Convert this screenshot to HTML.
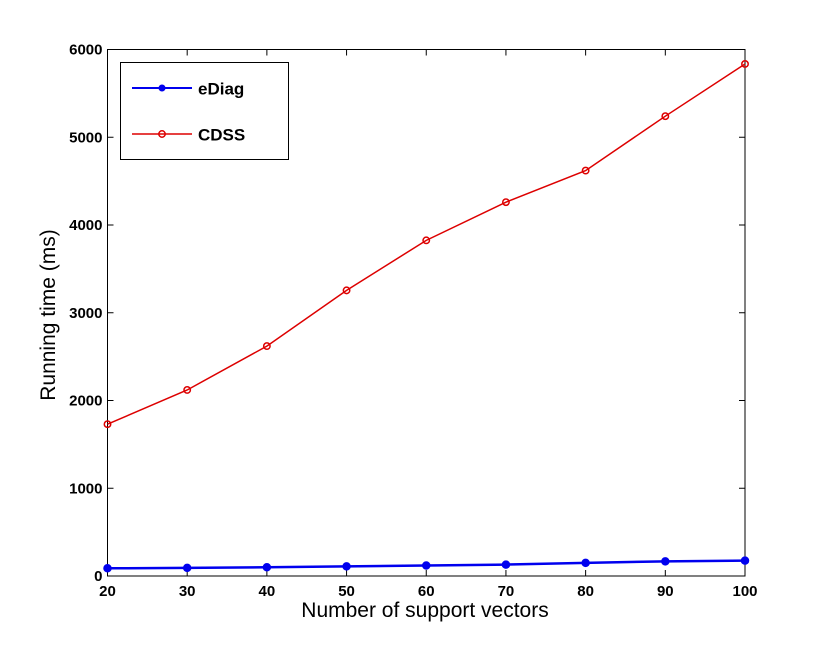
<!DOCTYPE html>
<html><head><meta charset="utf-8"><style>
html,body{margin:0;padding:0;background:#fff;}
svg{display:block;font-family:"Liberation Sans",Arial,sans-serif;}
</style></head><body>
<svg id="chart" width="823" height="647">
<rect width="823" height="647" fill="#fff"/>
<g id="axes"></g><g id="series"></g>
<g>
<rect x="120.5" y="62.5" width="168" height="97" fill="#fff" stroke="#000" stroke-width="1"/>
<g>
<line x1="132" y1="88" x2="192" y2="88" stroke="#0000ee" stroke-width="2"/>
<circle cx="162" cy="88" r="3.5" fill="#0000ee"/>
<text x="198" y="94.5" font-size="17" font-weight="bold">eDiag</text></g>
<g>
<line x1="132" y1="134" x2="192" y2="134" stroke="#dd0000" stroke-width="1.5"/>
<circle cx="162" cy="134" r="3.2" fill="none" stroke="#dd0000" stroke-width="1.5"/>
<text x="198" y="140.5" font-size="17" font-weight="bold">CDSS</text></g>
</g>
<text x="425" y="617" text-anchor="middle" font-size="21">Number of support vectors</text>
<text transform="translate(55,315) rotate(-90)" text-anchor="middle" font-size="21">Running time (ms)</text>
</svg>
<script>
const categories=[20,30,40,50,60,70,80,90,100];
const ediagValues=[88,92,100,110,120,130,150,167,175];
const cdssValues=[1730,2120,2620,3255,3825,4260,4620,5240,5835];
const xTicks=[20,30,40,50,60,70,80,90,100];
const yTicks=[0,1000,2000,3000,4000,5000,6000];
const L=107.5,R=745,T=49.5,B=576;
const xs=v=>L+(v-20)/80*(R-L);
const ys=v=>B-v/6000*(B-T);
const NS="http://www.w3.org/2000/svg";
function mk(tag,attrs,parent){const e=document.createElementNS(NS,tag);for(const k in attrs)e.setAttribute(k,attrs[k]);parent.appendChild(e);return e;}
const ax=document.getElementById('axes');
const box=mk('rect',{x:L,y:T,width:R-L,height:B-T,fill:'none',stroke:'#000','stroke-width':1},ax);


xTicks.forEach(v=>{const x=xs(v);
mk('line',{x1:x,y1:B,x2:x,y2:B-6,stroke:'#000'},ax);
mk('line',{x1:x,y1:T,x2:x,y2:T+6,stroke:'#000'},ax);
const t=mk('text',{x:x,y:B+20,'text-anchor':'middle','font-size':15,'font-weight':'bold'},ax);t.textContent=v;

});
yTicks.forEach(v=>{const y=ys(v);
mk('line',{x1:L,y1:y,x2:L+6,y2:y,stroke:'#000'},ax);
mk('line',{x1:R,y1:y,x2:R-6,y2:y,stroke:'#000'},ax);
const t=mk('text',{x:L-5,y:y+5,'text-anchor':'end','font-size':15,'font-weight':'bold'},ax);t.textContent=v;

});
const sg=document.getElementById('series');
function series(vals,color,filled,name,w){
const g=mk('g',{},sg);


mk('polyline',{points:vals.map((v,i)=>xs(categories[i])+','+ys(v)).join(' '),fill:'none',stroke:color,'stroke-width':w},g);
vals.forEach((v,i)=>{const c=mk('circle',{cx:xs(categories[i]),cy:ys(v),r:filled?3.5:3.2,fill:filled?color:'none',stroke:color,'stroke-width':1.5},g);

});
}
series(cdssValues,'#dd0000',false,'cdss-series',1.5);
series(ediagValues,'#0000ee',true,'ediag-series',2.5);
</script>
</body></html>
